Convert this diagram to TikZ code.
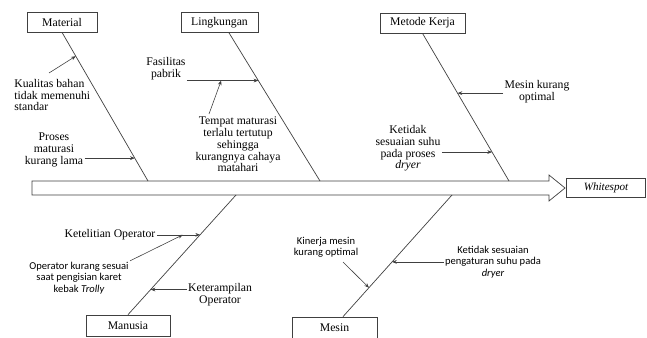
\documentclass[tikz,border=0pt]{standalone}
\usepackage{fontspec}
\setmainfont{Liberation Serif}
\newfontfamily\carlito{Carlito}
\usepackage{xcolor}
\usepackage{tikz}
\usetikzlibrary{positioning,arrows.meta,calc}
\definecolor{cgaris}{HTML}{404040}
\tikzset{
  kotak/.style={rectangle, draw=cgaris, line width=0.6pt, fill=white,
    minimum height=0.6cm, inner sep=1pt, font=\fontsize{10}{10}\selectfont},
  tulang/.style={draw=cgaris, line width=0.6pt},
  panah/.style={-{Stealth[length=4pt,width=3.2pt]}, draw=cgaris, line width=0.5pt},
  teks/.style={align=center, inner sep=1pt, font=\fontsize{10}{10}\selectfont},
  tekss/.style={align=center, inner sep=1pt, font=\carlito\fontsize{9}{9.6}\selectfont},
}

\begin{document}
\begin{tikzpicture}[x=0.03cm, y=-0.03cm]
  \useasboundingbox (0,0) rectangle (647,338);
  % kepala dan badan ikan
  \draw[tulang, fill=white] (32,181) -- (549,181) -- (549,175) -- (565,188)
    -- (549,201) -- (549,195) -- (32,195) -- cycle;
  \node[kotak, minimum width=2.37cm, minimum height=0.55cm,
    font=\fontsize{9.5}{10}\selectfont\itshape] (ws) at (606,188) {Whitespot};
  % kategori
  \node[kotak, minimum width=2.1cm] (mat) at (62,22) {Material};
  \node[kotak, minimum width=2.31cm] (lin) at (219.5,22.5) {Lingkungan};
  \node[kotak, minimum width=2.55cm] (met) at (422.5,23) {Metode Kerja};
  \node[kotak, minimum width=2.52cm, minimum height=0.63cm] (man) at (128,325.5) {Manusia};
  \node[kotak, minimum width=2.55cm, minimum height=0.66cm] (mes) at (334.5,328) {Mesin};
  % tulang
  \coordinate (matB) at (148,181);
  \coordinate (linA) at ($(lin.south)+(9.5,0)$);
  \coordinate (linB) at (320,181);
  \coordinate (metB) at (509,181);
  \coordinate (manB) at (236,195);
  \coordinate (mesA) at ($(mes.north)+(8.5,0)$);
  \coordinate (mesB) at (452,195);
  \draw[tulang] (mat.south) -- (matB);
  \draw[tulang] (linA) -- (linB);
  \draw[tulang] (met.south) -- (metB);
  \draw[tulang] (man.north) -- (manB);
  \draw[tulang] (mesA) -- (mesB);
  % penyebab
  \node[teks, align=left, anchor=west] (kual) at (13,95) {Kualitas bahan\\tidak memenuhi\\standar};
  \node[teks] (pros) at (54,150) {Proses\\maturasi\\kurang lama};
  \node[teks] (fas) at (166,69) {Fasilitas\\pabrik};
  \node[teks] (temp) at (238,144.5) {Tempat maturasi\\terlalu tertutup\\sehingga\\kurangnya cahaya\\matahari};
  \node[teks] (mko) at (537,91.5) {Mesin kurang\\optimal};
  \node[teks] (ket) at (408,148.5) {Ketidak\\sesuaian suhu\\pada proses\\\textit{dryer}};
  \node[teks] (ketel) at (110,235) {Ketelitian Operator};
  \node[tekss] (opk) at (79,278) {Operator kurang sesuai\\saat pengisian karet\\kebak {\itshape Trolly}};
  \node[teks] (keter) at (220,295) {Keterampilan\\Operator};
  \node[tekss] (kin) at (326,247.5) {Kinerja mesin\\kurang optimal};
  \node[tekss] (ketp) at (493,262) {Ketidak sesuaian\\pengaturan suhu pada\\{\itshape dryer}};
  % titik panah
  \coordinate (t1) at ($(mat.south)!0.16!(matB)$);
  \coordinate (t2) at ($(mat.south)!0.846!(matB)$);
  \coordinate (t3) at ($(linA)!0.322!(linB)$);
  \coordinate (t4) at ($(fas.east |- t3)!0.48!(t3)$);
  \coordinate (t5) at ($(met.south)!0.405!(metB)$);
  \coordinate (t6) at ($(met.south)!0.804!(metB)$);
  \coordinate (t7) at ($(man.north)!0.667!(manB)$);
  \coordinate (t8) at ($(man.north)!0.21!(manB)$);
  \coordinate (t9) at ($(mesA)!0.238!(mesB)$);
  \coordinate (t10) at ($(mesA)!0.45!(mesB)$);
  \coordinate (t11) at ($(ketel.east |- t7)!0.6!(t7)$);
  \coordinate (s1) at (49,73);
  \coordinate (s4) at (209,114);
  \coordinate (s9) at (343,262);
  % panah
  \draw[panah] (s1) -- (t1);
  \draw[panah] (pros.east |- t2) -- (t2);
  \draw[panah] (fas.east |- t3) -- (t3);
  \draw[panah] (s4) -- (t4);
  \draw[panah] (mko.west |- t5) -- (t5);
  \draw[panah] (ket.east |- t6) -- (t6);
  \draw[panah] (ketel.east |- t7) -- (t7);
  \draw[panah] (opk.north east) -- (t11);
  \draw[panah] (keter.west |- t8) -- (t8);
  \draw[panah] (s9) -- (t9);
  \draw[panah] (ketp.west |- t10) -- (t10);
\end{tikzpicture}
\end{document}
